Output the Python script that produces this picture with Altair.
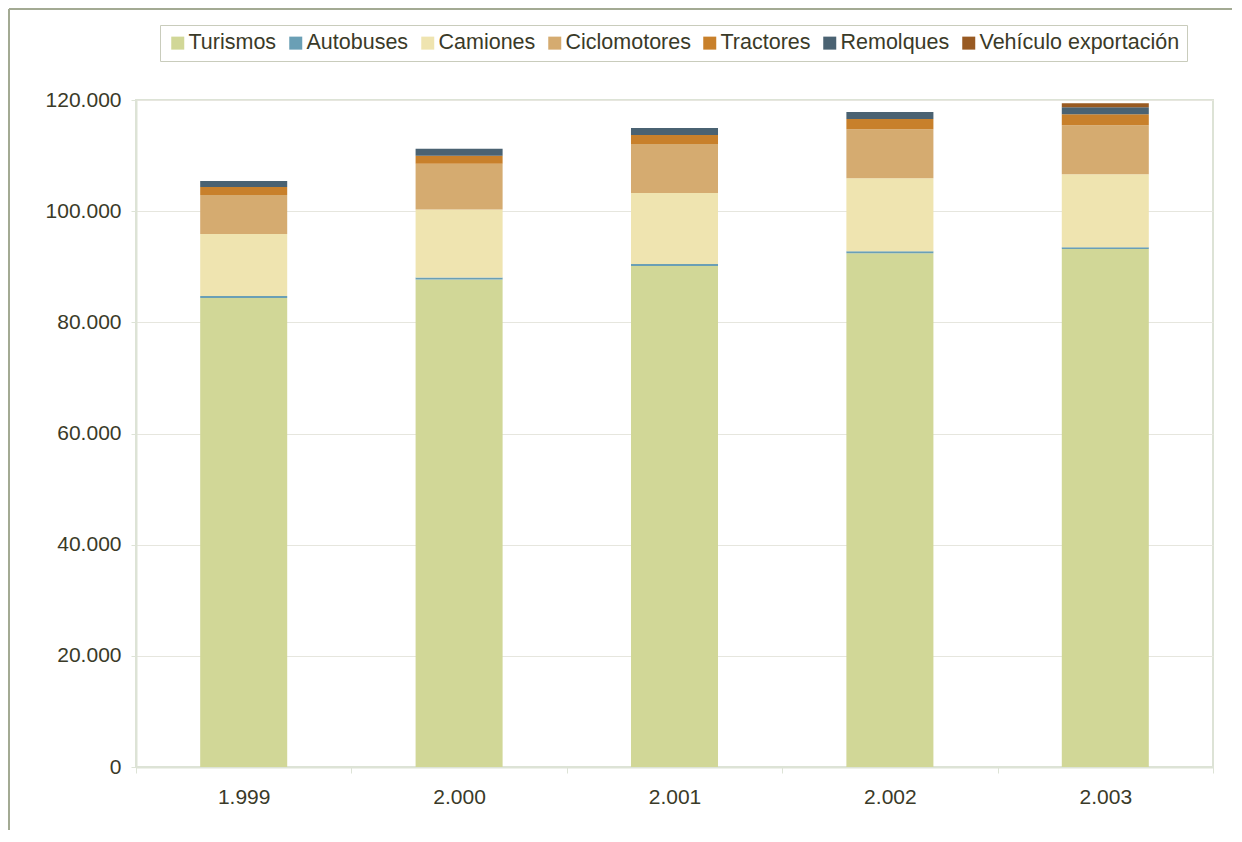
import altair as alt
import pandas as pd

years = ["1.999", "2.000", "2.001", "2.002", "2.003"]
categories = ["Turismos", "Autobuses", "Camiones", "Ciclomotores", "Tractores",
              "Remolques", "Vehículo exportación"]
turismos = [84400, 87700, 90150, 92450, 93200]
autobuses = [360, 360, 360, 360, 300]
camiones = [11150, 12230, 12770, 13130, 13130]
ciclomotores = [7000, 8220, 8820, 8820, 8820]
tractores = [1440, 1440, 1620, 1800, 1980]
remolques = [1080, 1260, 1260, 1260, 1260]
exportacion = [0, 0, 0, 0, 720]
colors = ["#d1d797", "#6a9fb5", "#efe4b0", "#d5ab70", "#c8802b", "#4a6272", "#985a22"]
y_ticks = [0, 20000, 40000, 60000, 80000, 100000, 120000]

series = [turismos, autobuses, camiones, ciclomotores, tractores, remolques, exportacion]
rows = []
for ci, (cat, vals) in enumerate(zip(categories, series)):
    for y, v in zip(years, vals):
        rows.append({"year": y, "cat": cat, "value": v, "order": ci})
df = pd.DataFrame(rows)

text_color = "#3a3a28"
font = "Liberation Sans"

bars = alt.Chart(df).mark_bar(width=alt.RelativeBandSize(0.404)).encode(
    x=alt.X("year:N", sort=years, title=None,
            scale=alt.Scale(paddingInner=0, paddingOuter=0),
            axis=alt.Axis(tickBand="extent", labelAngle=0, labelFontSize=21,
                          labelColor=text_color, labelPadding=13, tickSize=6,
                          tickColor="#dde3d6", domainColor="#dde3d6", domainWidth=2,
                          grid=False)),
    y=alt.Y("value:Q", stack="zero", title=None,
            scale=alt.Scale(domain=[0, 120000], nice=False),
            axis=alt.Axis(values=y_ticks, labelFontSize=21, labelColor=text_color,
                          labelExpr="replace(format(datum.value, ','), ',', '.')",
                          labelPadding=10, tickSize=5, tickColor="#dde3d6",
                          domainColor="#dde3d6", domainWidth=2,
                          gridColor="#e6e6de", gridWidth=1)),
    color=alt.Color("cat:N", sort=categories,
                    scale=alt.Scale(domain=categories, range=colors),
                    legend=alt.Legend(title=None, orient="none", direction="horizontal",
                                      legendX=24, legendY=-75,
                                      symbolType="square", symbolSize=169,
                                      symbolStrokeWidth=0, labelFontSize=21.5,
                                      labelColor=text_color, labelOffset=0,
                                      labelLimit=0,
                                      columnPadding=8, padding=7,
                                      strokeColor="#c9ccbc", fillColor="white")),
    order=alt.Order("order:Q", sort="ascending"),
)

border_df = pd.DataFrame({"dummy": [0]})
hrule = alt.Chart(border_df).mark_rule(color="#a3aa93", strokeWidth=2).encode(
    x=alt.value(-127), x2=alt.value(1096), y=alt.value(-91))
vrule = alt.Chart(border_df).mark_rule(color="#a3aa93", strokeWidth=2).encode(
    x=alt.value(-127), y=alt.value(-91), y2=alt.value(730))

chart = alt.layer(bars, hrule, vrule).properties(
    width=1077, height=667, padding=0
).configure(font=font).configure_view(
    stroke="#dde3d6", strokeWidth=2
)

chart.save("out.html", embed_options={"renderer": "svg", "actions": False})
